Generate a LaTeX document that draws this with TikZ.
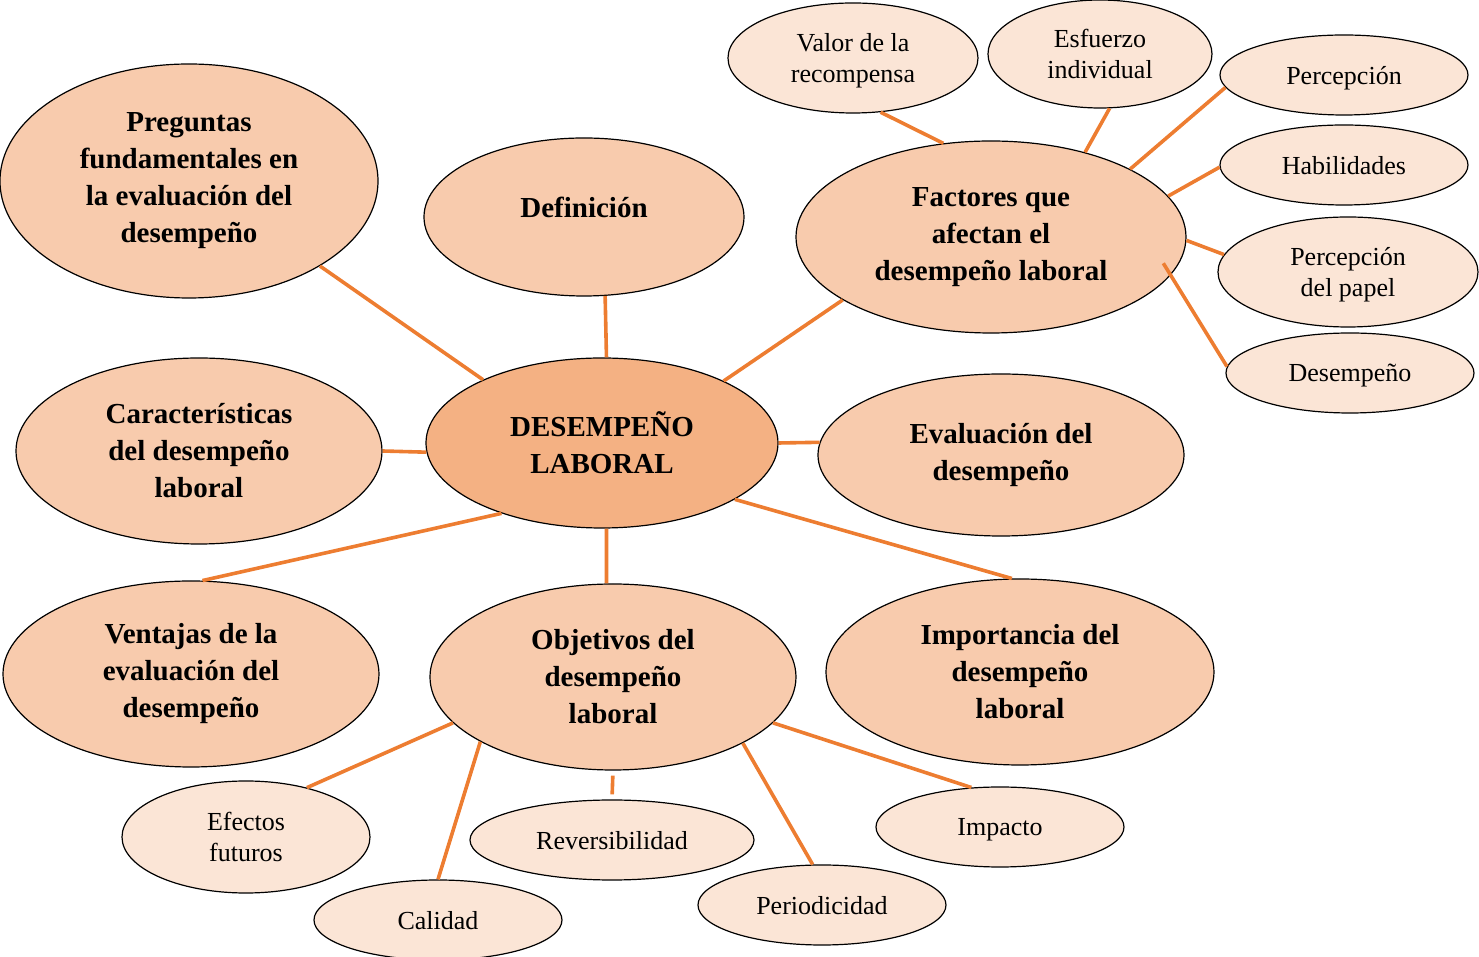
\documentclass[tikz,border=0pt]{standalone}
\usepackage{fontspec}
\setmainfont{Liberation Serif}
\usetikzlibrary{shapes.geometric,positioning}
\definecolor{linea}{HTML}{ED7D31}
\definecolor{fondoA}{HTML}{F4B183}
\definecolor{fondoB}{HTML}{F8CBAD}
\definecolor{fondoC}{HTML}{FBE5D6}

\tikzset{
  tema/.style={ellipse, draw, line width=0.6pt, inner sep=0pt, align=center,
    font=\fontsize{14.5}{18.5}\selectfont\bfseries},
  centro/.style={tema, fill=fondoA},
  rama/.style={tema, fill=fondoB},
  hoja/.style={ellipse, draw, line width=0.6pt, inner sep=0pt, align=center,
    fill=fondoC, text depth=0pt, font=\fontsize{13}{15.5}\selectfont},
  enlace/.style={draw=linea, line width=1.8pt},
  tam/.style 2 args={minimum width=#1pt, minimum height=#2pt}
}

\begin{document}
\begin{tikzpicture}[on grid]
\useasboundingbox (-301pt,221.5pt) rectangle (438.5pt,-257pt);

\node[centro, tam={176}{85}] (dl) at (0,0) {DESEMPEÑO\\LABORAL};
\node[rama, tam={189}{117}, above left=131pt and 206.5pt of dl] (preg) {Preguntas\\fundamentales en\\la evaluación del\\desempeño};
\node[rama, tam={160}{79}, text depth=10pt, above left=113pt and 9pt of dl] (defi) {Definición};
\node[rama, tam={195}{96}, above right=103pt and 194.5pt of dl] (fact) {Factores que\\afectan el\\desempeño laboral};
\node[rama, tam={183}{93}, below left=4pt and 201.5pt of dl] (carac) {Características\\del desempeño\\laboral};
\node[rama, tam={183}{81}, below right=6pt and 199.5pt of dl] (eval) {Evaluación del\\desempeño};
\node[rama, tam={188}{93}, below left=115.5pt and 205.5pt of dl] (vent) {Ventajas de la\\evaluación del\\desempeño};
\node[rama, tam={183}{93}, below right=117pt and 5.5pt of dl] (obj) {Objetivos del\\desempeño\\laboral};
\node[rama, tam={194}{93}, below right=114.5pt and 209pt of dl] (impo) {Importancia del\\desempeño\\laboral};

% factores
\node[hoja, tam={125}{55}, above left=89.5pt and 69pt of fact] (valor) {Valor de la\\recompensa};
\node[hoja, tam={112}{54}, above right=91.5pt and 54.5pt of fact] (esf) {Esfuerzo\\individual};
\node[hoja, tam={124}{40}, above right=81pt and 176.5pt of fact] (perc) {Percepción};
\node[hoja, tam={124}{40}, above right=36pt and 176.5pt of fact] (hab) {Habilidades};
\node[hoja, tam={130}{55}, below right=17.5pt and 178.5pt of fact] (papel) {Percepción\\del papel};
\node[hoja, tam={124}{40}, below right=68pt and 179.5pt of fact] (desemp) {Desempeño};

% objetivos
\node[hoja, tam={124}{56}, below left=80pt and 183.5pt of obj] (efec) {Efectos\\futuros};
\node[hoja, tam={124}{40}, below left=121.5pt and 87.5pt of obj] (cal) {Calidad};
\node[hoja, tam={142}{40}, below left=81.5pt and 0.5pt of obj] (rev) {Reversibilidad};
\node[hoja, tam={124}{40}, below right=114pt and 104.5pt of obj] (per) {Periodicidad};
\node[hoja, tam={124}{40}, below right=75pt and 193.5pt of obj] (impa) {Impacto};

\draw[enlace]
  (dl.152) -- (preg.-33)
  (dl.87) -- (defi.-75)
  (dl.27) -- (fact.-157)
  (dl.183) -- (carac.east)
  (dl.east) -- (eval.176)
  (dl.-145) -- (vent.83)
  (dl.-87.5) -- (obj.94)
  (dl.-23.5) -- (impo.95)
  (fact.117.5) -- (valor.-63)
  (fact.42.6) -- (esf.-80)
  (fact.26) -- (perc.-174)
  (fact.13) -- (hab.181)
  (fact.-1) -- (papel.172)
  (obj.196) -- (efec.39)
  (obj.-154) -- (cal.90)
  (obj.-27.4) -- (per.103)
  (obj.-16.8) -- (impa.126);
\draw[enlace, shorten <=-7pt] (fact.-12) -- (desemp.177);
\draw[enlace, shorten <=2.5pt, shorten >=2.5pt] (obj.-90) -- (rev.90);
\end{tikzpicture}
\end{document}
